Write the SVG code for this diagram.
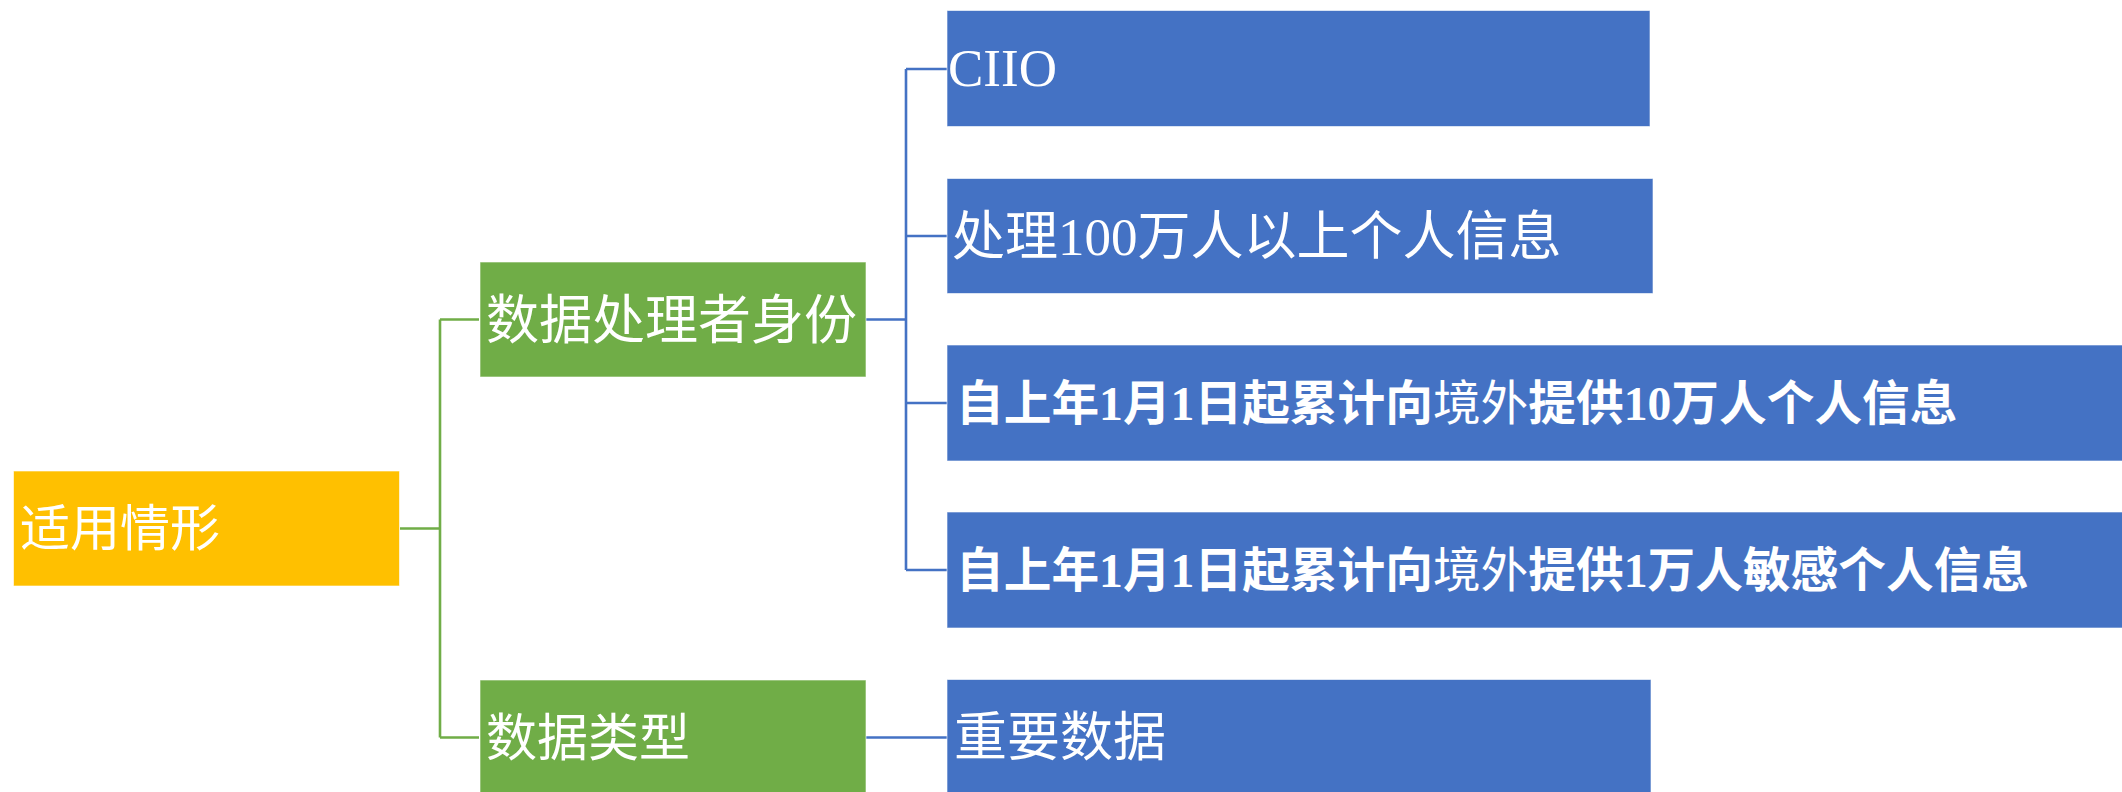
<svg xmlns="http://www.w3.org/2000/svg" width="2122" height="792" viewBox="0 0 2122 792">
<style>
.box{stroke:#ffffff;stroke-width:1;stroke-opacity:0.6}
.y{fill:#FFC000}
.g{fill:#70AD47}
.b{fill:#4472C4}
.t{fill:#ffffff;font-family:"Liberation Serif","Noto Sans CJK SC",serif;font-size:53px}
.s{font-size:47.7px;font-weight:700}
.n{font-weight:400}
.cg{fill:none;stroke:#70AD47;stroke-width:2.6}
.cb{fill:none;stroke:#4472C4;stroke-width:2.6}
</style>
<rect width="2122" height="792" fill="#ffffff"/>
<g id="connectors">
<path class="cg" d="M400 528.5H440M440 319.5V737.5M440 319.5H479M440 737.5H479"/>
<path class="cb" d="M866 319.5H906M906 69V570M906 69H947M906 236H947M906 403H947M906 570H947"/>
<path class="cb" d="M866 737.5H947"/>
</g>
<g id="n-root"><rect class="box y" x="13.5" y="471" width="386" height="115"/><text class="t" x="20" y="546" style="font-size:50px">适用情形</text></g>
<g id="n-identity"><rect class="box g" x="480" y="262" width="386" height="115"/><text class="t" x="486" y="339">数据处理者身份</text></g>
<g id="n-datatype"><rect class="box g" x="480" y="680" width="386" height="118"/><text class="t" x="486" y="756" style="font-size:51px">数据类型</text></g>
<g id="n-ciio"><rect class="box b" x="947" y="10.5" width="703" height="116"/><text class="t" x="948" y="86">CIIO</text></g>
<g id="n-million"><rect class="box b" x="947" y="178.5" width="706" height="115"/><text class="t" x="952" y="255">处理100万人以上个人信息</text></g>
<g id="n-100k"><rect class="box b" x="947" y="345" width="1180" height="116"/><text class="t s" x="956" y="420">自上年1月1日起累计向<tspan class="n">境外</tspan>提供10万人个人信息</text></g>
<g id="n-10k"><rect class="box b" x="947" y="512" width="1180" height="116"/><text class="t s" x="956" y="587">自上年1月1日起累计向<tspan class="n">境外</tspan>提供1万人敏感个人信息</text></g>
<g id="n-important"><rect class="box b" x="947" y="679.5" width="704" height="118"/><text class="t" x="954" y="756">重要数据</text></g>
</svg>
